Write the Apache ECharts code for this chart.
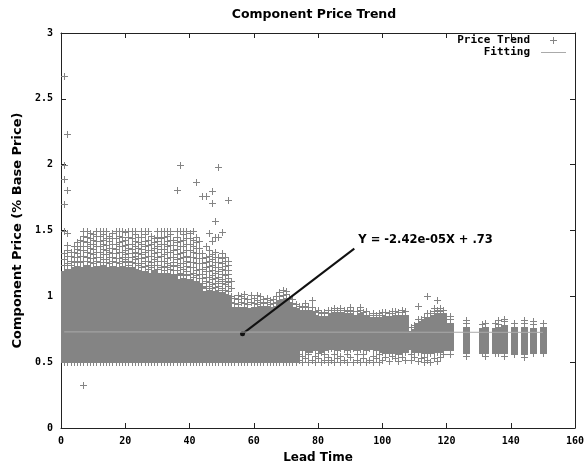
<!DOCTYPE html>
<html><head><meta charset="utf-8">
<script src="https://cdn.jsdelivr.net/npm/echarts@6/dist/echarts.min.js"></script>
<style>html,body{margin:0;padding:0;background:#fff}#c{width:587px;height:468px}</style>
</head><body><div id="c"></div>
<script>
// ---------- data ----------
const xTicks = [0, 20, 40, 60, 80, 100, 120, 140, 160];
const yTicks = [0, 0.5, 1, 1.5, 2, 2.5, 3];

// dense columns of points: lead time, lowest and highest value of the solid part
const colX = [1,2,3,4,5,6,7,8,9,10,11,12,13,14,15,16,17,18,19,20,21,22,23,24,25,26,27,28,29,30,31,32,33,34,35,36,37,38,39,40,41,42,43,44,45,46,47,48,49,50,51,52,
  53,54,55,56,57,58,59,60,61,62,63,64,65,66,67,68,69,70,71,72,73,
  74,75,76,77,78,79,80,81,82,83,84,85,86,87,88,89,90,91,92,93,94,95,96,97,98,99,100,101,102,103,104,105,106,107,
  108,109,110,111,112,113,114,115,116,117,118,119,
  121,126,131,132,135,136,138,141,144,147,150];
const colLow = [0.5,0.5,0.5,0.5,0.5,0.5,0.5,0.5,0.5,0.5,0.5,0.5,0.5,0.5,0.5,0.5,0.5,0.5,0.5,0.5,0.5,0.5,0.5,0.5,0.5,0.5,0.5,0.5,0.5,0.5,0.5,0.5,0.5,0.5,0.5,0.5,0.5,0.5,0.5,0.5,0.5,0.5,0.5,0.5,0.5,0.5,0.5,0.5,0.5,0.5,0.5,0.5,
  0.5,0.5,0.5,0.5,0.5,0.5,0.5,0.5,0.5,0.5,0.5,0.5,0.5,0.5,0.5,0.5,0.5,0.5,0.5,0.5,0.5,
  0.59,0.6,0.59,0.58,0.6,0.59,0.6,0.58,0.59,0.6,0.61,0.6,0.59,0.61,0.6,0.59,0.6,0.61,0.59,0.6,0.6,0.59,0.61,0.6,0.59,0.6,0.58,0.57,0.58,0.57,0.58,0.57,0.58,0.58,
  0.62,0.6,0.58,0.58,0.58,0.57,0.57,0.57,0.58,0.58,0.58,0.59,
  0.59,0.57,0.57,0.57,0.57,0.57,0.57,0.56,0.56,0.57,0.57];
const colHigh = [1.19,1.21,1.2,1.22,1.23,1.21,1.22,1.24,1.22,1.21,1.23,1.22,1.24,1.22,1.21,1.23,1.22,1.21,1.23,1.22,1.2,1.22,1.21,1.2,1.18,1.19,1.17,1.18,1.2,1.17,1.18,1.16,1.18,1.17,1.16,1.13,1.12,1.14,1.12,1.13,1.11,1.12,1.1,1.04,1.03,1.05,1.03,1.04,1.02,1.03,1.02,1.01,
  0.92,0.91,0.92,0.9,0.92,0.91,0.9,0.92,0.91,0.93,0.92,0.93,0.91,0.92,0.93,0.97,0.98,0.99,0.96,0.92,0.91,
  0.9,0.89,0.9,0.9,0.89,0.86,0.85,0.84,0.85,0.84,0.87,0.88,0.87,0.88,0.87,0.86,0.87,0.86,0.86,0.87,0.85,0.86,0.83,0.84,0.83,0.84,0.83,0.85,0.85,0.84,0.86,0.86,0.85,0.86,
  0.72,0.74,0.75,0.8,0.81,0.82,0.84,0.84,0.86,0.87,0.86,0.87,
  0.8,0.77,0.76,0.77,0.76,0.77,0.78,0.77,0.77,0.76,0.77];

// sparser points above the solid part: [lead time, values...]
const upperPts = [
  [1,1.24,1.28,1.33,1.5],[2,1.25,1.31,1.35,1.39,1.48],[3,1.24,1.27,1.31,1.34],[4,1.26,1.3,1.34,1.38],
  [5,1.27,1.3,1.33,1.36,1.41],[6,1.26,1.31,1.35,1.38,1.43],[7,1.27,1.31,1.35,1.38,1.42,1.46,1.5],
  [8,1.27,1.3,1.34,1.38,1.41,1.45,1.5],[9,1.26,1.29,1.33,1.37,1.4,1.44,1.48],[10,1.25,1.29,1.32,1.36,1.4,1.43,1.47],
  [11,1.27,1.3,1.34,1.38,1.42,1.46,1.5],[12,1.26,1.3,1.34,1.38,1.42,1.46,1.5],[13,1.28,1.32,1.36,1.4,1.43,1.47,1.5],
  [14,1.26,1.28,1.32,1.35,1.39,1.44,1.5],[15,1.25,1.3,1.34,1.37,1.42,1.46],[16,1.27,1.3,1.33,1.37,1.4,1.44,1.48],
  [17,1.26,1.29,1.33,1.36,1.4,1.44,1.5],[18,1.25,1.29,1.34,1.38,1.41,1.46,1.5],[19,1.27,1.3,1.34,1.38,1.42,1.45,1.5],
  [20,1.26,1.28,1.32,1.35,1.39,1.43,1.49],[21,1.24,1.27,1.3,1.33,1.37,1.4,1.45,1.5],[22,1.26,1.3,1.33,1.36,1.4,1.44,1.5],
  [23,1.25,1.28,1.31,1.34,1.38,1.42,1.47,1.5],[24,1.24,1.29,1.33,1.37,1.41,1.45],[25,1.22,1.25,1.29,1.32,1.36,1.4,1.45,1.5],
  [26,1.23,1.27,1.3,1.34,1.38,1.42,1.47,1.5],[27,1.21,1.24,1.27,1.31,1.35,1.39,1.43,1.5],[28,1.22,1.26,1.31,1.35,1.4,1.46],
  [29,1.24,1.28,1.33,1.37,1.41,1.44],[30,1.21,1.24,1.27,1.3,1.34,1.38,1.42,1.45,1.5],[31,1.22,1.27,1.31,1.36,1.4,1.44,1.5],
  [32,1.2,1.23,1.27,1.32,1.36,1.4,1.45,1.5],[33,1.22,1.25,1.29,1.34,1.38,1.42,1.46,1.5],[34,1.21,1.24,1.3,1.34,1.39,1.43,1.47,1.5],
  [35,1.2,1.23,1.26,1.3,1.35,1.39,1.43],[36,1.17,1.2,1.24,1.28,1.32,1.36,1.41,1.45,1.5],[37,1.16,1.18,1.22,1.25,1.29,1.33,1.38,1.42,1.5],
  [38,1.17,1.21,1.25,1.3,1.34,1.38,1.43,1.47,1.5],[39,1.16,1.19,1.23,1.27,1.31,1.35,1.4,1.44,1.5],[40,1.17,1.22,1.26,1.3,1.35,1.4,1.44,1.48],
  [41,1.15,1.18,1.22,1.26,1.3,1.34,1.38,1.43,1.5],[42,1.16,1.2,1.25,1.29,1.33,1.37,1.41,1.45],[43,1.14,1.17,1.21,1.25,1.29,1.33,1.37,1.42],
  [44,1.07,1.1,1.14,1.17,1.21,1.25,1.29,1.33],[45,1.06,1.08,1.12,1.15,1.19,1.22,1.26,1.3,1.38],[46,1.08,1.11,1.15,1.19,1.23,1.27,1.31,1.35,1.48],
  [47,1.06,1.09,1.13,1.16,1.2,1.24,1.28,1.32,1.42],[48,1.07,1.1,1.14,1.18,1.22,1.26,1.3,1.34,1.45],[49,1.05,1.08,1.12,1.15,1.19,1.22,1.26,1.3],
  [50,1.06,1.1,1.13,1.17,1.21,1.25,1.29,1.33,1.49],[51,1.05,1.09,1.12,1.16,1.2,1.23,1.27,1.3],[52,1.04,1.08,1.11,1.14,1.17,1.2,1.24,1.27],
  [53,0.96,1.0,1.06,1.12],[54,0.95,0.99],[55,0.94,0.98,1.01],[56,0.96,1.0],[57,0.95,0.99,1.02],[58,0.94,0.98],
  [59,0.96,1.01],[60,0.95,0.99],[61,0.94,0.97,1.01],[62,0.96,1.0],[63,0.95,0.98],[64,0.96,0.99],[65,0.94,0.97],
  [66,0.95,0.98],[67,0.96,1.0],[68,1.0,1.03],[69,1.01,1.05],[70,1.02,1.04],[71,0.99],[72,0.95,0.98],[73,0.94],
  [74,0.93],[75,0.92],[76,0.93,0.95],[77,0.92],[78,0.92],[79,0.89],[80,0.88,0.9],[81,0.87],[82,0.88],[83,0.87,0.9],
  [84,0.9],[85,0.91],[86,0.9],[87,0.91],[88,0.9],[89,0.89],[90,0.9,0.92],[91,0.89],[92,0.89],[93,0.9,0.92],[94,0.88],
  [95,0.89],[96,0.86],[97,0.87],[98,0.86],[99,0.87],[100,0.86,0.88],[101,0.88],[102,0.87],[103,0.87,0.89],[104,0.89],
  [105,0.88],[106,0.88,0.9],[107,0.89],[109,0.77],[110,0.78],[111,0.83],[112,0.83],[113,0.84],[114,0.87],[115,0.87],
  [116,0.89,0.91],[117,0.9],[118,0.89,0.91],[119,0.9],
  [121,0.83,0.85],[126,0.8,0.82],[131,0.79],[132,0.8],[135,0.8],[136,0.79,0.82],[138,0.81,0.83],[141,0.8],
  [144,0.8,0.82],[147,0.79,0.81],[150,0.8]
];
// sparser points below the solid part
const lowerPts = [
  [74,0.52,0.56],[75,0.5,0.55],[76,0.53],[77,0.5,0.56],[78,0.52],[79,0.5,0.55],[80,0.53,0.57],[81,0.5],[82,0.52,0.56],
  [83,0.5,0.54],[84,0.52],[85,0.5,0.56],[86,0.53],[87,0.5,0.55],[88,0.52],[89,0.5,0.56],[90,0.54],[91,0.5],
  [92,0.52,0.56],[93,0.5],[94,0.53,0.56],[95,0.5],[96,0.52],[97,0.5,0.55],[98,0.53],[99,0.5,0.56],[100,0.52],
  [101,0.54],[102,0.51],[103,0.55],[104,0.53],[105,0.51,0.56],[106,0.54],[107,0.52],
  [109,0.52,0.56],[110,0.54],[111,0.51],[112,0.53],[113,0.5,0.54],[114,0.52],[115,0.5],[116,0.53],[117,0.51],
  [118,0.54],[119,0.56],[121,0.56],[126,0.55],[132,0.55],[138,0.55],[144,0.54]
];
// isolated points
const outliers = [
  [1,2.67],[2,2.23],[1,2.0],[1,1.89],[2,1.81],[1,1.7],[7,0.33],
  [36,1.81],[37,2.0],[42,1.87],[44,1.76],[45,1.76],[47,1.8],[47,1.71],[49,1.98],[52,1.73],
  [48,1.57],[50,1.49],[46,1.48],[49,1.45],[78,0.97],[111,0.93],[114,1.0],[117,0.97]
];

// least-squares fit, read from the annotation
const fitLine = [[1, 0.73], [150, 0.7264]];
const fitLabel = 'Y = -2.42e-05X + .73';
const arrowFrom = [91.3, 1.362];
const arrowTo = [56.5, 0.715];

// ---------- chart ----------
const GREY = '#848484';
const MONO = '"DejaVu Sans Mono", monospace';
const SANS = '"DejaVu Sans", sans-serif';

const bandData = colX.map((x, i) => [x, colLow[i], colHigh[i]]);
const crossData = [];
colX.forEach((x, i) => { crossData.push([x, colLow[i]]); crossData.push([x, colHigh[i]]); });
upperPts.forEach(r => { for (let k = 1; k < r.length; k++) crossData.push([r[0], r[k]]); });
lowerPts.forEach(r => { for (let k = 1; k < r.length; k++) crossData.push([r[0], r[k]]); });
outliers.forEach(p => crossData.push(p));

function crossShape(cx, cy, color) {
  return [
    { type: 'rect', shape: { x: cx - 3, y: cy, width: 7, height: 1 }, style: { fill: color } },
    { type: 'rect', shape: { x: cx, y: cy - 3, width: 1, height: 7 }, style: { fill: color } }
  ];
}

const axisCommon = {
  axisLine: { show: true, onZero: false, lineStyle: { color: '#222', width: 1 } },
  axisTick: { show: true, inside: true, length: 5, lineStyle: { color: '#222' } },
  splitLine: { show: false }
};

const chart = echarts.init(document.getElementById('c'), null, { renderer: 'canvas' });
chart.setOption({
  animation: false,
  backgroundColor: '#fff',
  grid: { left: 61, right: 12, top: 33, bottom: 40, outerBoundsMode: 'none', containLabel: false },
  xAxis: [
    Object.assign({}, axisCommon, {
      type: 'value', position: 'bottom', min: xTicks[0], max: xTicks[xTicks.length - 1], interval: 20,
      axisLabel: { margin: 8, fontFamily: MONO, fontWeight: 'bold', fontSize: 10, color: '#000' },
      name: 'Lead Time', nameLocation: 'middle', nameGap: 24,
      nameTextStyle: { fontFamily: SANS, fontWeight: 'bold', fontSize: 12, color: '#000' }
    }),
    Object.assign({}, axisCommon, {
      type: 'value', position: 'top', min: xTicks[0], max: xTicks[xTicks.length - 1], interval: 20,
      axisLabel: { show: false }
    })
  ],
  yAxis: [
    Object.assign({}, axisCommon, {
      type: 'value', position: 'left', min: yTicks[0], max: yTicks[yTicks.length - 1], interval: 0.5,
      axisLabel: { margin: 8, fontFamily: MONO, fontWeight: 'bold', fontSize: 10, color: '#000' },
      name: 'Component Price (% Base Price)', nameLocation: 'middle', nameGap: 36, nameRotate: 90,
      nameTextStyle: { fontFamily: SANS, fontWeight: 'bold', fontSize: 13, color: '#000' }
    }),
    Object.assign({}, axisCommon, {
      type: 'value', position: 'right', min: yTicks[0], max: yTicks[yTicks.length - 1], interval: 0.5,
      axisLabel: { show: false }
    })
  ],
  graphic: [
    { type: 'text', x: 314, y: 15, style: { text: 'Component Price Trend', fontFamily: SANS, fontWeight: 'bold', fontSize: 12.5, fill: '#000', align: 'center', verticalAlign: 'middle' } },
    { type: 'text', x: 530, y: 40, style: { text: 'Price Trend', fontFamily: MONO, fontWeight: 'bold', fontSize: 11, fill: '#000', align: 'right', verticalAlign: 'middle' } },
    { type: 'group', children: crossShape(553, 40, GREY) },
    { type: 'text', x: 530, y: 52, style: { text: 'Fitting', fontFamily: MONO, fontWeight: 'bold', fontSize: 11, fill: '#000', align: 'right', verticalAlign: 'middle' } },
    { type: 'rect', shape: { x: 541, y: 52, width: 25, height: 1 }, style: { fill: '#aaaaaa' } }
  ],
  series: [
    {
      name: 'Price Trend', type: 'custom', silent: true, data: bandData,
      encode: { x: 0, y: [1, 2] },
      renderItem: (params, api) => {
        const x = api.value(0);
        const pLo = api.coord([x, api.value(1)]);
        const pHi = api.coord([x, api.value(2)]);
        const cx = Math.round(pLo[0]);
        const yT = Math.round(pHi[1]), yB = Math.round(pLo[1]);
        return { type: 'rect', shape: { x: cx - 3, y: yT, width: 7, height: yB - yT + 1 }, style: { fill: GREY } };
      }
    },
    {
      name: 'Price Trend', type: 'custom', silent: true, data: crossData,
      encode: { x: 0, y: 1 },
      renderItem: (params, api) => {
        const p = api.coord([api.value(0), api.value(1)]);
        return { type: 'group', children: crossShape(Math.round(p[0]), Math.round(p[1]), GREY) };
      }
    },
    {
      name: 'Fitting', type: 'line', data: fitLine, symbol: 'none', silent: true,
      lineStyle: { color: '#aaaaaa', width: 1 }
    },
    {
      name: 'annotation', type: 'custom', silent: true,
      data: [[arrowFrom[0], arrowFrom[1], arrowTo[0], arrowTo[1]]],
      encode: { x: [0, 2], y: [1, 3] },
      renderItem: (params, api) => {
        const a = api.coord([api.value(0), api.value(1)]);
        const b = api.coord([api.value(2), api.value(3)]);
        return { type: 'group', children: [
          { type: 'line', shape: { x1: a[0], y1: a[1], x2: b[0], y2: b[1] }, style: { stroke: '#111', lineWidth: 2 } },
          { type: 'circle', shape: { cx: b[0], cy: b[1], r: 2.5 }, style: { fill: '#111' } },
          { type: 'text', x: a[0] + 4, y: a[1] - 9, style: { text: fitLabel, fontFamily: SANS, fontWeight: 'bold', fontSize: 11.5, fill: '#000', align: 'left', verticalAlign: 'middle' } }
        ] };
      }
    }
  ]
});
</script>
</body></html>
